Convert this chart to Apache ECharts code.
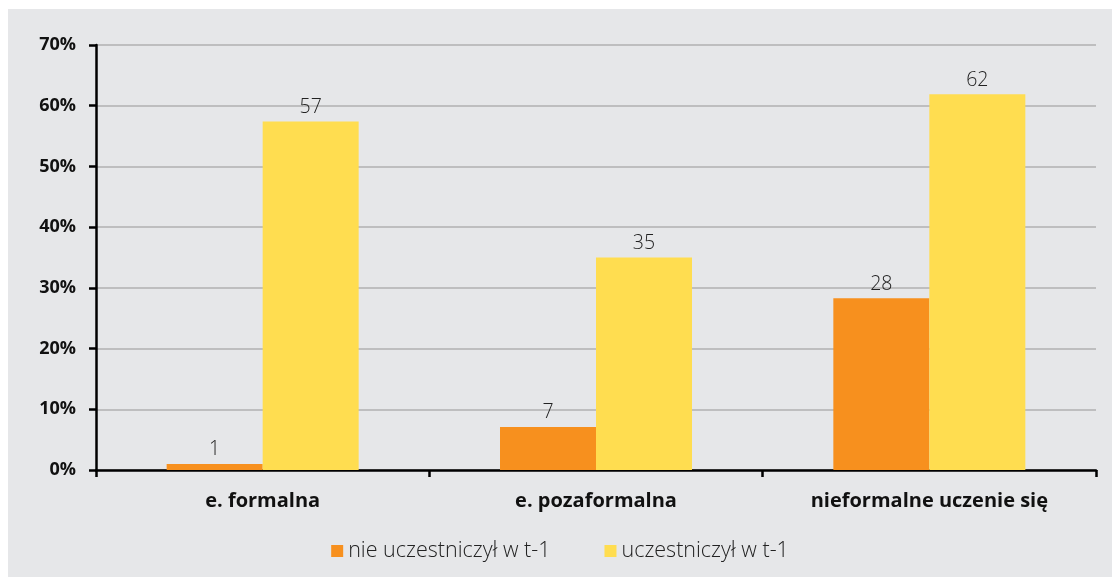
<!DOCTYPE html>
<html><head><meta charset="utf-8">
<script src="https://cdn.jsdelivr.net/npm/echarts@6/dist/echarts.min.js"></script>
<style>
html,body{margin:0;padding:0;background:#fff;width:1112px;height:577px;overflow:hidden;}
#c{position:absolute;left:8px;top:9px;width:1104px;height:568px;background:#e6e7e9;}
</style></head>
<body><div id="c"></div>
<script>
const categories = ['e. formalna', 'e. pozaformalna', 'nieformalne uczenie się'];
const seriesNames = ['nie uczestniczył w t-1', 'uczestniczył w t-1'];
const notParticipated = [1.0, 7.1, 28.3];
const participated = [57.4, 35.0, 61.9];
const yTicks = [0, 10, 20, 30, 40, 50, 60, 70];

const chart = echarts.init(document.getElementById('c'), null, {renderer: 'canvas'});
const labelStyle = {
  show: true, position: 'top', distance: 4,
  color: '#222222', fontFamily: 'Open Sans', fontSize: 19.5, fontWeight: 300,
  formatter: p => Math.round(p.value)
};
chart.setOption({
  backgroundColor: '#e6e7e9',
  animation: false,
  textStyle: {fontFamily: 'Open Sans'},
  grid: {left: 88, right: 16, top: 36, bottom: 107},
  legend: {
    data: seriesNames, bottom: 10, left: 'center',
    itemWidth: 12, itemHeight: 12, itemGap: 54, icon: 'rect',
    textStyle: {color: '#222', fontSize: 21.5, fontWeight: 300, fontFamily: 'Open Sans', padding: [0,0,0,0]}
  },
  xAxis: {
    type: 'category', data: categories,
    axisLine: {lineStyle: {color: '#000', width: 2.5}},
    axisTick: {show: true, length: 7, lineStyle: {color: '#000', width: 2.5}},
    axisLabel: {color: '#111', fontSize: 20, fontWeight: 'bold', margin: 21, fontFamily: 'Open Sans'}
  },
  yAxis: {
    type: 'value', min: 0, max: 70, interval: 10,
    axisLine: {show: true, lineStyle: {color: '#000', width: 2.5}},
    axisTick: {show: true, length: 7, lineStyle: {color: '#000', width: 2.5}},
    splitLine: {lineStyle: {color: '#b0b0b0', width: 1.5}},
    axisLabel: {color: '#111', fontSize: 18, fontWeight: 'bold', margin: 20, fontFamily: 'Open Sans',
      formatter: v => yTicks.includes(v) ? v + '%' : ''}
  },
  series: [
    {name: seriesNames[0], type: 'bar', data: notParticipated, barWidth: 96, barGap: '0%',
     itemStyle: {color: '#f7901e'}, label: labelStyle},
    {name: seriesNames[1], type: 'bar', data: participated, barWidth: 96, barGap: '0%',
     itemStyle: {color: '#ffdd50'}, label: labelStyle}
  ]
});
</script></body></html>
